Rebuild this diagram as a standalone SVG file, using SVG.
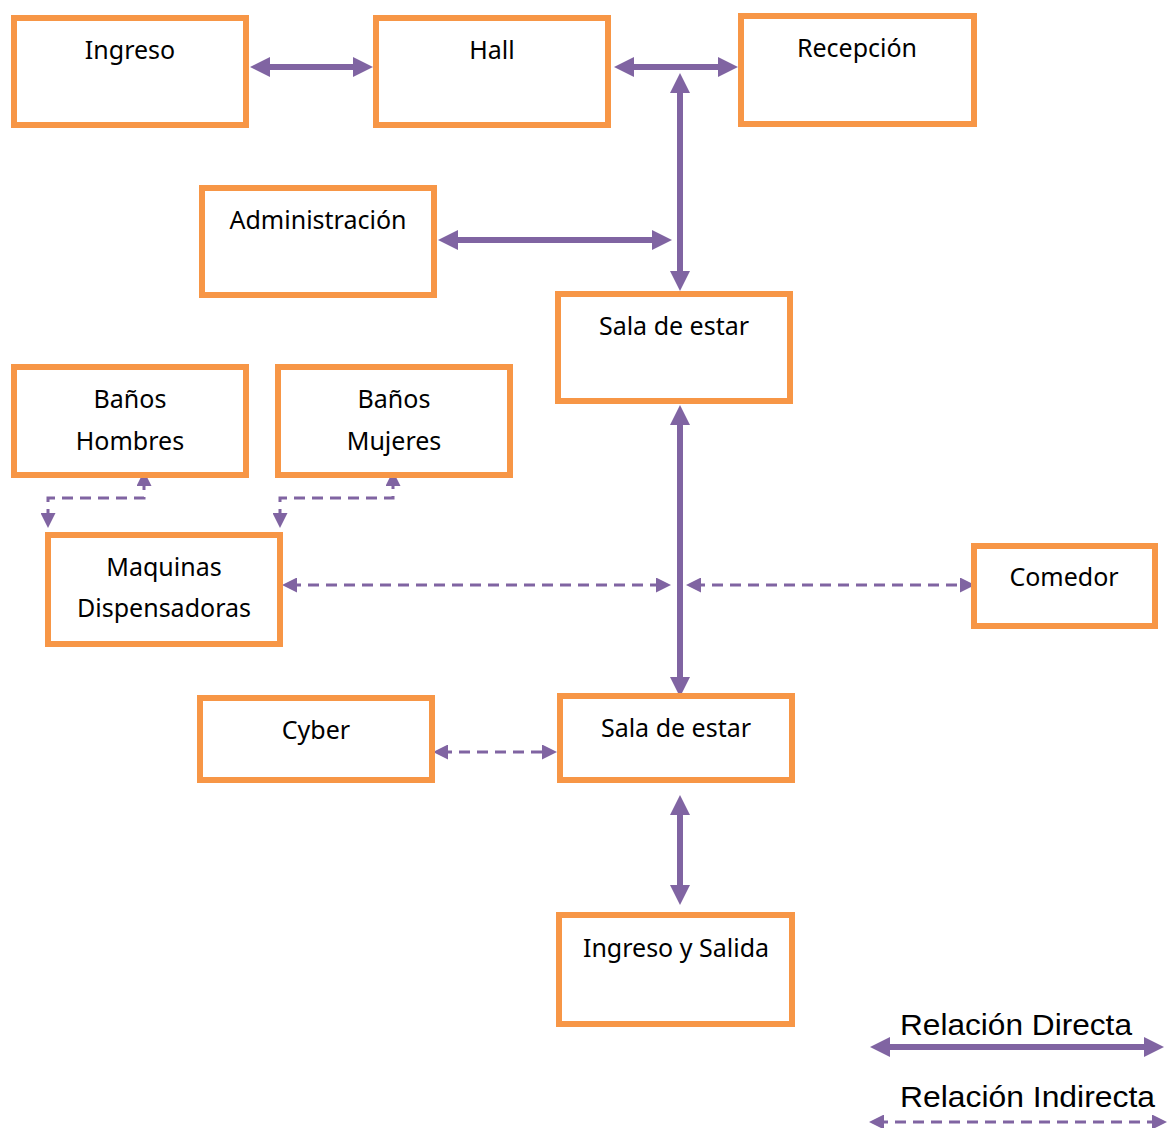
<svg xmlns="http://www.w3.org/2000/svg" width="1169" height="1128" viewBox="0 0 1169 1128">
<style>
.box{fill:#fff;stroke:#F79646;stroke-width:6}
.lbl{font-family:"Noto Sans","Open Sans",sans-serif;font-size:25px;fill:#000;text-anchor:middle}
.leg{font-family:"Liberation Sans",Arial,sans-serif;font-size:29px;fill:#000}
.solid{fill:none;stroke:#8064A2;stroke-width:6;marker-start:url(#hs);marker-end:url(#hs)}
.dash{fill:none;stroke:#8064A2;stroke-width:3;stroke-dasharray:11 7;marker-start:url(#hd);marker-end:url(#hd)}
</style>
<defs>
<marker id="hs" markerUnits="userSpaceOnUse" markerWidth="20" markerHeight="20" refX="10" refY="10" orient="auto-start-reverse"><path d="M0,0 L20,10 L0,20 z" fill="#8064A2"/></marker>
<marker id="hd" markerUnits="userSpaceOnUse" markerWidth="15" markerHeight="15" refX="7" refY="7.5" orient="auto-start-reverse"><path d="M0,0 L15,7.5 L0,15 z" fill="#8064A2"/></marker>
</defs>
<g id="connectors">
<path class="solid" d="M260,67 H363"/>
<path class="solid" d="M624,67 H728"/>
<path class="solid" d="M680,83 V281"/>
<path class="solid" d="M448,240 H662"/>
<path class="solid" d="M680,415 V687"/>
<path class="solid" d="M680,805 V895"/>
<path class="dash" d="M290,585 H663"/>
<path class="dash" d="M694,585 H967"/>
<path class="dash" d="M441,752 H549"/>
<path class="dash" d="M48,520 V498 H144 V479"/>
<path class="dash" d="M280,520 V498 H393 V479"/>
</g>
<g id="ingreso"><rect class="box" x="14" y="18" width="232" height="107"/><text class="lbl" x="130" y="59">Ingreso</text></g>
<g id="hall"><rect class="box" x="376" y="18" width="232" height="107"/><text class="lbl" x="492" y="59">Hall</text></g>
<g id="recepcion"><rect class="box" x="741" y="16" width="233" height="108"/><text class="lbl" x="857" y="57">Recepción</text></g>
<g id="administracion"><rect class="box" x="202" y="188" width="232" height="107"/><text class="lbl" x="318" y="229">Administración</text></g>
<g id="sala1"><rect class="box" x="558" y="294" width="232" height="107"/><text class="lbl" x="674" y="335">Sala de estar</text></g>
<g id="banos-hombres"><rect class="box" x="14" y="367" width="232" height="108"/><text class="lbl" x="130" y="408">Baños</text><text class="lbl" x="130" y="450">Hombres</text></g>
<g id="banos-mujeres"><rect class="box" x="278" y="367" width="232" height="108"/><text class="lbl" x="394" y="408">Baños</text><text class="lbl" x="394" y="450">Mujeres</text></g>
<g id="maquinas"><rect class="box" x="48" y="535" width="232" height="109"/><text class="lbl" x="164" y="576">Maquinas</text><text class="lbl" x="164" y="617">Dispensadoras</text></g>
<g id="comedor"><rect class="box" x="974" y="546" width="181" height="80"/><text class="lbl" x="1064" y="586">Comedor</text></g>
<g id="cyber"><rect class="box" x="200" y="698" width="232" height="82"/><text class="lbl" x="316" y="739">Cyber</text></g>
<g id="sala2"><rect class="box" x="560" y="696" width="232" height="84"/><text class="lbl" x="676" y="737">Sala de estar</text></g>
<g id="ingreso-salida"><rect class="box" x="559" y="915" width="233" height="109"/><text class="lbl" x="676" y="957">Ingreso y Salida</text></g>
<g id="legend">
<text class="leg" x="900" y="1035" textLength="232" lengthAdjust="spacingAndGlyphs">Relación Directa</text>
<path class="solid" d="M880,1047 H1154"/>
<text class="leg" x="900" y="1107" textLength="255" lengthAdjust="spacingAndGlyphs">Relación Indirecta</text>
<path class="dash" d="M877,1122 H1159"/>
</g>
</svg>
